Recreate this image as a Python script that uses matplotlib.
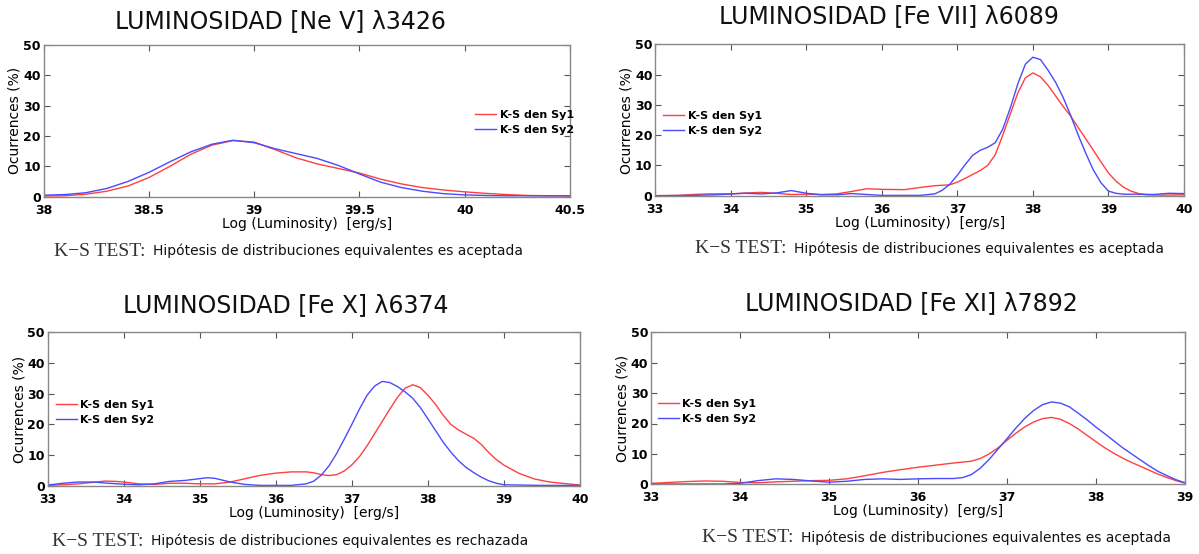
import numpy as np
import matplotlib
matplotlib.use('Agg')
import matplotlib.pyplot as plt
from matplotlib.ticker import FuncFormatter

# Distribuciones K-S de luminosidad, Sy1 (rojo) y Sy2 (azul)

# [Ne V] 3426
nev_x = [38.0, 38.1, 38.2, 38.3, 38.4, 38.5, 38.6, 38.7, 38.8, 38.9, 39.0, 39.1, 39.2,
         39.3, 39.4, 39.5, 39.6, 39.7, 39.8, 39.9, 40.0, 40.1, 40.2, 40.3, 40.4, 40.5]
nev_sy1 = [0.2, 0.3, 0.8, 1.8, 3.5, 6.3, 10.0, 14.0, 17.0, 18.5, 18.0, 15.5, 12.8,
           10.8, 9.3, 7.8, 5.8, 4.2, 3.0, 2.2, 1.6, 1.1, 0.7, 0.4, 0.3, 0.2]
nev_sy2 = [0.5, 0.7, 1.3, 2.7, 5.0, 8.0, 11.5, 14.8, 17.3, 18.6, 17.8, 15.8, 14.2,
           12.6, 10.3, 7.5, 4.8, 3.0, 1.8, 1.0, 0.6, 0.4, 0.3, 0.3, 0.3, 0.3]

# [Fe VII] 6089
fe7_x1 = [33.0, 33.3, 33.5, 33.7, 34.0, 34.2, 34.4, 34.6, 34.8, 35.0, 35.2, 35.4, 35.6,
          35.8, 36.0, 36.3, 36.5, 36.7, 36.9, 37.0, 37.1, 37.2, 37.3, 37.4, 37.5, 37.6,
          37.7, 37.8, 37.9, 38.0, 38.1, 38.2, 38.3, 38.4, 38.5, 38.6, 38.7, 38.8, 38.9,
          39.0, 39.1, 39.2, 39.3, 39.4, 39.5, 39.7, 40.0]
fe7_sy1 = [0.0, 0.1, 0.4, 0.6, 0.6, 0.9, 1.1, 0.8, 0.4, 0.5, 0.4, 0.6, 1.4,
           2.3, 2.1, 2.0, 2.7, 3.3, 3.6, 4.5, 5.7, 7.0, 8.3, 10.0, 13.5, 20.0,
           27.0, 34.0, 39.0, 40.6, 39.3, 36.5, 33.0, 29.5, 26.3, 22.5, 18.8, 15.0, 11.2,
           7.5, 4.8, 2.8, 1.5, 0.7, 0.3, 0.2, 0.3]
fe7_x2 = [33.0, 33.5, 33.8, 34.0, 34.2, 34.4, 34.6, 34.8, 35.0, 35.2, 35.4, 35.6, 35.8,
          36.0, 36.5, 36.7, 36.8, 36.9, 37.0, 37.1, 37.2, 37.3, 37.4, 37.5, 37.6, 37.7,
          37.8, 37.9, 38.0, 38.1, 38.2, 38.3, 38.4, 38.5, 38.6, 38.7, 38.8, 38.9, 39.0,
          39.1, 39.2, 39.4, 39.6, 39.8, 40.0]
fe7_sy2 = [0.0, 0.1, 0.3, 0.6, 0.8, 0.6, 0.9, 1.7, 0.8, 0.3, 0.3, 0.7, 0.4,
           0.1, 0.1, 0.6, 1.8, 3.8, 6.8, 10.2, 13.3, 15.0, 16.0, 17.5, 22.0, 29.0,
           37.0, 43.5, 45.8, 45.0, 41.5, 37.5, 32.5, 26.5, 20.0, 14.0, 8.5, 4.3, 1.5,
           0.8, 0.5, 0.5, 0.4, 0.8, 0.7]

# [Fe X] 6374
fe10_x1 = [33.0, 33.2, 33.4, 33.6, 33.75, 33.9, 34.0, 34.2, 34.4, 34.6, 34.8, 35.0, 35.2,
           35.4, 35.6, 35.8, 36.0, 36.2, 36.4, 36.5, 36.6, 36.7, 36.8, 36.9, 37.0, 37.1,
           37.2, 37.3, 37.4, 37.5, 37.6, 37.7, 37.8, 37.9, 38.0, 38.1, 38.2, 38.3, 38.4,
           38.5, 38.6, 38.7, 38.8, 38.9, 39.0, 39.2, 39.4, 39.6, 39.8, 40.0]
fe10_sy1 = [0.1, 0.3, 0.6, 1.1, 1.5, 1.4, 1.2, 0.6, 0.4, 0.8, 0.8, 0.6, 0.6,
            1.2, 2.3, 3.4, 4.1, 4.5, 4.5, 4.2, 3.6, 3.3, 3.6, 4.8, 6.8, 9.5,
            13.0, 17.0, 21.0, 25.0, 28.8, 31.8, 32.9, 32.0, 29.5, 26.5, 23.0, 20.0, 18.2,
            16.8, 15.5, 13.5, 10.8, 8.5, 6.7, 4.0, 2.2, 1.2, 0.7, 0.2]
fe10_x2 = [33.0, 33.2, 33.4, 33.6, 33.8, 34.0, 34.2, 34.4, 34.6, 34.8, 35.0, 35.1, 35.2,
           35.4, 35.6, 35.8, 36.0, 36.2, 36.4, 36.5, 36.6, 36.7, 36.8, 36.9, 37.0, 37.1,
           37.2, 37.3, 37.4, 37.5, 37.6, 37.7, 37.8, 37.9, 38.0, 38.1, 38.2, 38.3, 38.4,
           38.5, 38.6, 38.7, 38.8, 38.9, 39.0, 39.5, 40.0]
fe10_sy2 = [0.2, 0.8, 1.2, 1.2, 0.8, 0.5, 0.3, 0.6, 1.4, 1.7, 2.3, 2.6, 2.4,
            1.2, 0.4, 0.1, 0.1, 0.1, 0.6, 1.5, 3.5, 6.5, 10.5, 15.2, 20.0, 25.0,
            29.5, 32.5, 34.0, 33.6, 32.3, 30.6, 28.5, 25.5, 21.8, 18.0, 14.2, 11.0, 8.2,
            6.0, 4.3, 2.8, 1.6, 0.8, 0.3, 0.1, 0.1]

# [Fe XI] 7892
fe11_x = [33.0, 33.2, 33.4, 33.6, 33.8, 34.0, 34.2, 34.4, 34.6, 34.8, 35.0, 35.2, 35.4,
          35.6, 35.8, 36.0, 36.2, 36.4, 36.5, 36.6, 36.7, 36.8, 36.9, 37.0, 37.1, 37.2,
          37.3, 37.4, 37.5, 37.6, 37.7, 37.8, 37.9, 38.0, 38.1, 38.2, 38.3, 38.4, 38.5,
          38.6, 38.7, 38.8, 38.9, 39.0]
fe11_sy1 = [0.3, 0.6, 0.9, 1.1, 1.0, 0.6, 0.5, 0.8, 1.0, 1.2, 1.3, 1.8, 2.8,
            3.9, 4.8, 5.6, 6.3, 7.0, 7.3, 7.6, 8.5, 10.0, 12.0, 14.5, 16.8, 18.9,
            20.5, 21.6, 22.0, 21.4, 20.0, 18.2, 16.1, 14.0, 12.0, 10.2, 8.6, 7.2, 5.9,
            4.6, 3.3, 2.2, 1.2, 0.4]
fe11_sy2 = [0.1, 0.1, 0.1, 0.1, 0.1, 0.3, 1.2, 1.8, 1.6, 1.1, 0.7, 1.0, 1.6,
            1.8, 1.6, 1.8, 1.9, 1.9, 2.2, 3.2, 5.3, 8.2, 11.6, 15.0, 18.5, 21.7,
            24.3, 26.2, 27.1, 26.7, 25.5, 23.4, 21.2, 18.8, 16.6, 14.3, 12.0, 10.0, 8.0,
            6.0, 4.2, 2.8, 1.5, 0.5]

W, H = 1199, 554
RED = '#ff4040'
BLUE = '#4a4aff'

fig = plt.figure(figsize=(W / 100, H / 100), dpi=100)
fig.patch.set_facecolor('white')


def caja(x0, y0, x1, y1):
    # rectangulo en pixeles -> fraccion de figura
    return [x0 / W, 1 - y1 / H, (x1 - x0) / W, (y1 - y0) / H]


def panel(rect, xa, ya, xb, yb, xlim, xticks, leg_pos):
    ax = fig.add_axes(rect)
    ax.plot(xa, ya, color=RED, lw=1.0, label='K-S den Sy1', solid_joinstyle='round')
    ax.plot(xb, yb, color=BLUE, lw=1.0, label='K-S den Sy2', solid_joinstyle='round')
    ax.set_xlim(*xlim)
    ax.set_ylim(0, 50)
    ax.set_xticks(xticks)
    ax.set_yticks([0, 10, 20, 30, 40, 50])
    ax.xaxis.set_major_formatter(FuncFormatter(lambda v, p: '%g' % v))
    ax.tick_params(direction='in', top=True, right=True, length=4, width=0.8,
                   color='#555555', labelsize=9, pad=2)
    ax.tick_params(axis='x', pad=5)
    for lab in ax.get_xticklabels() + ax.get_yticklabels():
        lab.set_fontweight('bold')
    for s in ax.spines.values():
        s.set_color('#888888')
        s.set_linewidth(1.0)
    ax.set_xlabel('Log (Luminosity)  [erg/s]', fontsize=10, labelpad=0)
    ax.set_ylabel('Ocurrences (%)', fontsize=10, labelpad=1)
    ax.legend(loc='center left', bbox_to_anchor=leg_pos, frameon=False,
              prop={'size': 8, 'weight': 'bold'}, handlelength=1.9,
              handletextpad=0.3, labelspacing=0.45, borderpad=0, borderaxespad=0)
    return ax


def titulo(xc, y, txt):
    fig.text(xc / W, 1 - y / H, txt, ha='center', va='center', fontsize=17,
             family='DejaVu Sans', color='#111111')


def ks(x, y, resultado):
    fig.text(x / W, 1 - y / H, 'K\u2212S TEST:', ha='left', va='center',
             fontsize=14, family='Liberation Serif', color='#333333')
    fig.text((x + 99) / W, 1 - y / H,
             'Hip\u00f3tesis de distribuciones equivalentes es ' + resultado,
             ha='left', va='center', fontsize=10, color='#111111')


panel(caja(43.5, 45, 570, 196.7), nev_x, nev_sy1, nev_x, nev_sy2,
      (38, 40.5), [38, 38.5, 39, 39.5, 40, 40.5], (0.82, 0.49))
panel(caja(655.3, 44.5, 1184, 195.7), fe7_x1, fe7_sy1, fe7_x2, fe7_sy2,
      (33, 40), range(33, 41), (0.015, 0.48))
panel(caja(47.7, 332.3, 580, 485.7), fe10_x1, fe10_sy1, fe10_x2, fe10_sy2,
      (33, 40), range(33, 41), (0.015, 0.48))
panel(caja(651, 332.3, 1185, 484.3), fe11_x, fe11_sy1, fe11_x, fe11_sy2,
      (33, 39), range(33, 40), (0.013, 0.48))

titulo(280, 21, 'LUMINOSIDAD [Ne V] \u03bb3426')
titulo(889, 16, 'LUMINOSIDAD [Fe VII] \u03bb6089')
titulo(286, 305, 'LUMINOSIDAD [Fe X] \u03bb6374')
titulo(911, 303, 'LUMINOSIDAD [Fe XI] \u03bb7892')

ks(54, 251, 'aceptada')
ks(695, 249, 'aceptada')
ks(52, 541, 'rechazada')
ks(702, 538, 'aceptada')

fig.savefig('out.png', dpi=100)
